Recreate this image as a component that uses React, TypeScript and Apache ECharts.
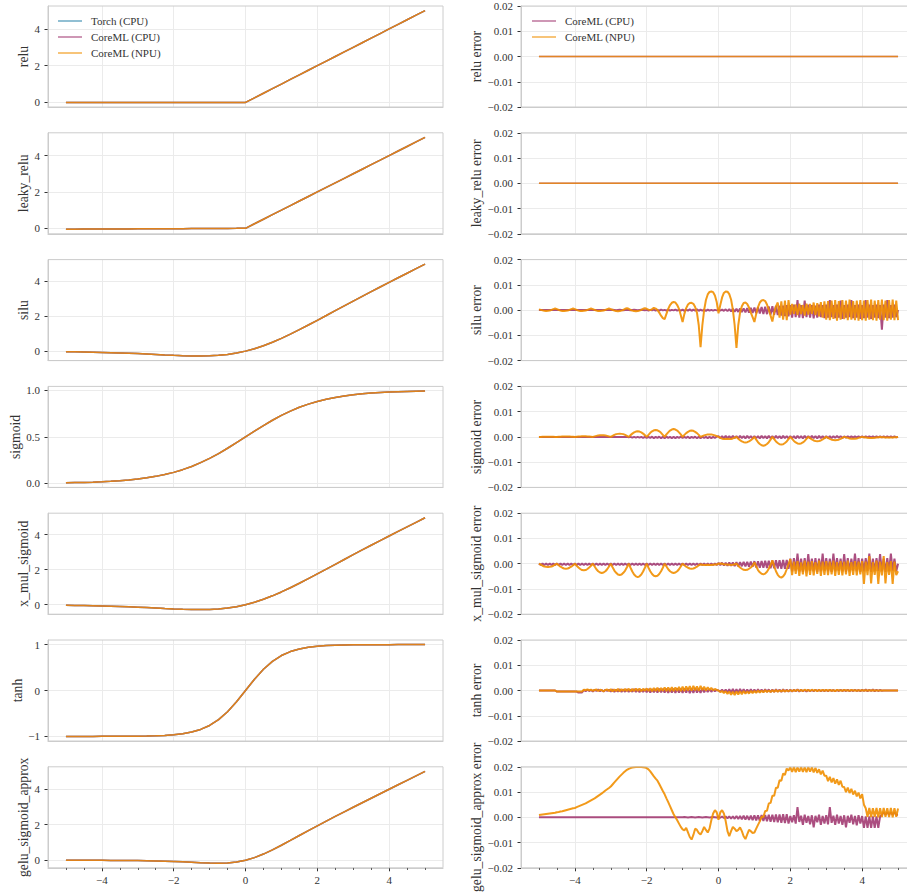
import React, { useEffect, useRef } from 'react';
import * as echarts from 'echarts';

// ---------- data ----------
const X_COARSE = [-5, -4.75, -4.5, -4.25, -4, -3.75, -3.5, -3.25, -3, -2.75, -2.5, -2.25, -2, -1.75, -1.5, -1.25, -1, -0.75, -0.5, -0.25, 0, 0.25, 0.5, 0.75, 1, 1.25, 1.5, 1.75, 2, 2.25, 2.5, 2.75, 3, 3.25, 3.5, 3.75, 4, 4.25, 4.5, 4.75, 5];

const RELU = [0, 0, 0, 0, 0, 0, 0, 0, 0, 0, 0, 0, 0, 0, 0, 0, 0, 0, 0, 0, 0, 0.25, 0.5, 0.75, 1, 1.25, 1.5, 1.75, 2, 2.25, 2.5, 2.75, 3, 3.25, 3.5, 3.75, 4, 4.25, 4.5, 4.75, 5];
const LEAKY_RELU = [-0.05, -0.048, -0.045, -0.043, -0.04, -0.038, -0.035, -0.033, -0.03, -0.028, -0.025, -0.023, -0.02, -0.018, -0.015, -0.013, -0.01, -0.008, -0.005, -0.003, 0, 0.25, 0.5, 0.75, 1, 1.25, 1.5, 1.75, 2, 2.25, 2.5, 2.75, 3, 3.25, 3.5, 3.75, 4, 4.25, 4.5, 4.75, 5];
const SILU = [-0.033, -0.041, -0.049, -0.06, -0.072, -0.086, -0.103, -0.121, -0.142, -0.165, -0.19, -0.215, -0.238, -0.259, -0.274, -0.278, -0.269, -0.241, -0.189, -0.109, 0, 0.141, 0.311, 0.509, 0.731, 0.972, 1.226, 1.491, 1.762, 2.035, 2.31, 2.585, 2.858, 3.129, 3.397, 3.664, 3.928, 4.19, 4.451, 4.709, 4.967];
const SIGMOID = [0.007, 0.009, 0.011, 0.014, 0.018, 0.023, 0.029, 0.037, 0.047, 0.06, 0.076, 0.095, 0.119, 0.148, 0.182, 0.223, 0.269, 0.321, 0.378, 0.438, 0.5, 0.562, 0.622, 0.679, 0.731, 0.777, 0.818, 0.852, 0.881, 0.905, 0.924, 0.94, 0.953, 0.963, 0.971, 0.977, 0.982, 0.986, 0.989, 0.991, 0.993];
const X_MUL_SIGMOID = [-0.033, -0.041, -0.049, -0.06, -0.072, -0.086, -0.103, -0.121, -0.142, -0.165, -0.19, -0.215, -0.238, -0.259, -0.274, -0.278, -0.269, -0.241, -0.189, -0.109, 0, 0.141, 0.311, 0.509, 0.731, 0.972, 1.226, 1.491, 1.762, 2.035, 2.31, 2.585, 2.858, 3.129, 3.397, 3.664, 3.928, 4.19, 4.451, 4.709, 4.967];
const TANH = [-1, -1, -1, -1, -0.999, -0.999, -0.998, -0.997, -0.995, -0.992, -0.987, -0.978, -0.964, -0.941, -0.905, -0.848, -0.762, -0.635, -0.462, -0.245, 0, 0.245, 0.462, 0.635, 0.762, 0.848, 0.905, 0.941, 0.964, 0.978, 0.987, 0.992, 0.995, 0.997, 0.998, 0.999, 0.999, 1, 1, 1, 1];
const GELU = [-0.001, -0.001, -0.002, -0.003, -0.004, -0.006, -0.009, -0.013, -0.018, -0.025, -0.035, -0.048, -0.064, -0.085, -0.108, -0.133, -0.154, -0.164, -0.15, -0.099, 0, 0.151, 0.35, 0.586, 0.846, 1.117, 1.392, 1.665, 1.936, 2.202, 2.465, 2.725, 2.982, 3.237, 3.491, 3.744, 3.996, 4.247, 4.498, 4.749, 5];

// error curves: evenly sampled from -5 to 5 every 0.05 (201 samples)
const X_FINE = Array.from({ length: 201 }, (_, i) => Math.round((-5 + i * 0.05) * 100) / 100);
const X_ZERO = [-5, 5];
const ERR_ZERO = [0, 0];

const SILU_NPU = [
  .0003, .0001, -.0001, -.0003, -.0004, -.0003, -.0002, .0001, .0004, .0006, .0004, .0001, -.0002, -.0004, -.0004, -.0003, -.0002, .0001, .0004, .0006,
  .0004, .0001, -.0002, -.0004, -.0004, -.0003, -.0002, .0001, .0004, .0006, .0004, .0001, -.0002, -.0004, -.0004, -.0003, -.0002, .0001, .0004, .0006,
  .0004, .0001, -.0002, -.0004, -.0005, -.0004, -.0002, .0001, .0005, .0007, .0005, .0001, -.0002, -.0004, -.0005, -.0004, -.0002, .0001, .0005, .0007,
  .0005, .0002, 0, .0004, .0009, .0006, 0, -.001, -.0022, -.0032, -.0036, -.0015, .0005, .002, .0029, .0032, .003, .002, .0005, -.002,
  -.0047, -.0015, .0008, .0022, .0028, .0029, .0025, .0012, -.001, -.006, -.0147, -.006, 0, .004, .0062, .0072, .0074, .0071, .0058, .0032,
  -.0013, .002, .005, .0068, .0074, .0073, .0063, .0042, .0002, -.006, -.015, -.006, -.001, .0015, .0028, .003, .0024, .001, -.001, -.0028,
  -.0047, -.0015, .0012, .003, .0038, .004, .0036, .0022, .0002, -.0022, -.0045, -.001, .0015, .003, -.003, .0035, -.0038, .0038, -.004, .004,
  -.0018, .0024, -.0015, .0022, -.002, .0025, -.0016, .002, -.0022, .0026, -.0018, .0024, -.0015, .003, -.002, .0028, -.0025, .0032, -.003, .0035,
  -.0038, .0036, -.004, .0038, -.0035, .004, -.0042, .0036, -.0038, .004, -.0036, .0038, -.004, .0042, -.0038, .0036, -.004, .0038, -.0042, .004,
  -.004, .0038, -.0042, .004, -.0038, .0042, -.004, .0038, -.0042, .004, -.0038, .0042, -.004, .0038, -.0042, .004, -.0038, .0042, -.004, .0038,
  -.004,
];
const SILU_CPU = [
  0, 0, 0, 0, 0, 0, 0, 0, 0, 0, 0, 0, 0, 0, 0, 0, 0, 0, 0, 0,
  0, 0, 0, 0, 0, 0, 0, 0, 0, 0, 0, 0, 0, 0, 0, 0, 0, 0, 0, 0,
  0, .0001, 0, -.0001, 0, .0001, 0, -.0001, 0, .0001, 0, -.0001, 0, .0001, 0, -.0001, 0, .0001, 0, -.0001,
  .0001, -.0002, .0001, -.0001, .0002, -.0002, .0001, -.0002, .0002, -.0001, .0001, -.0002, .0002, -.0002, .0001, -.0001, .0002, -.0002, .0001, -.0002,
  .0002, -.0003, .0002, -.0002, .0003, -.0003, .0002, -.0002, .0003, -.0003, .0002, -.0002, .0002, -.0003, .0002, -.0002, .0001, -.0002, .0001, -.0001,
  .0001, -.0002, .0002, -.0003, .0003, -.0004, .0004, -.0005, .0005, -.0006, .0005, -.0007, .0006, -.0008, .0007, -.0009, .0008, -.001, .0009, -.0011,
  .001, -.0012, .0011, -.0013, .0012, -.0015, .0013, -.0016, .0014, -.0018, .0015, -.0019, .0016, -.002, .0017, -.0022, .0018, -.0024, .002, -.0025,
  .002, -.003, .0022, -.0028, .004, -.003, .002, -.0032, .0038, -.0028, .0022, -.003, .002, -.0033, .0018, -.003, .0022, -.0028, .002, -.0032,
  .0022, -.003, .004, -.0028, .002, -.0032, .0022, -.003, .0038, -.0035, .002, -.003, .0022, -.0028, .004, -.0032, .002, -.003, .0022, -.0035,
  .002, -.0032, .004, -.003, .0022, -.0035, .002, -.003, .0022, -.0032, .002, -.0078, .0022, -.003, .004, -.0032, .002, -.003, .0022, -.0028,
  0,
];
const SIGMOID_NPU = [
  0, 0, .0001, .0001, .0001, .0001, .0001, .0001, .0001, 0, 0, .0001, .0001, .0002, .0002, .0002, .0002, .0002, .0001, .0001,
  0, .0001, .0002, .0002, .0003, .0003, .0003, .0002, .0002, .0001, 0, .0002, .0004, .0006, .0007, .0007, .0007, .0006, .0004, .0002,
  0, .0004, .0008, .0011, .0012, .0013, .0012, .0011, .0008, .0004, 0, .0007, .0013, .0018, .0021, .0022, .0021, .0018, .0013, .0007,
  0, .0008, .0016, .0022, .0026, .0027, .0026, .0022, .0016, .0008, 0, .001, .0018, .0025, .0029, .0031, .0029, .0025, .0018, .001,
  0, .0008, .0015, .002, .0024, .0025, .0024, .002, .0015, .0008, 0, .0003, .0006, .0008, .001, .001, .001, .0008, .0006, .0003,
  0, -.0004, -.0007, -.0008, -.0008, -.0007, -.0008, -.0008, -.0006, -.0003, 0, -.0007, -.0013, -.0018, -.0021, -.0022, -.0021, -.0018, -.0013, -.0007,
  0, -.0011, -.0021, -.0028, -.0033, -.0035, -.0033, -.0028, -.0021, -.0011, 0, -.0009, -.0018, -.0024, -.0029, -.003, -.0029, -.0024, -.0018, -.0009,
  0, -.0008, -.0016, -.0022, -.0026, -.0027, -.0026, -.0022, -.0016, -.0008, 0, -.0005, -.001, -.0014, -.0016, -.0017, -.0016, -.0014, -.001, -.0005,
  0, -.0004, -.0008, -.0011, -.0012, -.0013, -.0012, -.0011, -.0008, -.0004, 0, -.0002, -.0004, -.0006, -.0007, -.0007, -.0007, -.0006, -.0004, -.0002,
  0, -.0001, -.0002, -.0003, -.0004, -.0004, -.0004, -.0003, -.0002, -.0001, 0, -.0001, -.0001, -.0002, -.0002, -.0002, -.0002, -.0002, -.0001, -.0001,
  0,
];
const SIGMOID_CPU = [
  0, 0, 0, 0, 0, 0, 0, 0, 0, 0, 0, 0, 0, 0, 0, 0, 0, 0, 0, 0,
  0, 0, 0, 0, 0, 0, 0, 0, 0, 0, 0, 0, 0, 0, 0, 0, 0, 0, 0, 0,
  0, 0, 0, 0, 0, 0, 0, 0, 0, 0, -.0002, 0, -.0003, 0, -.0003, 0, -.0003, 0, -.0004, 0,
  -.0004, 0, -.0004, .0001, -.0005, 0, -.0004, .0001, -.0005, 0, -.0005, .0001, -.0004, 0, -.0005, .0001, -.0005, 0, -.0004, .0001,
  -.0004, 0, -.0004, .0001, -.0005, 0, -.0004, .0001, -.0005, 0, -.0005, .0001, -.0004, 0, -.0005, .0001, -.0005, 0, -.0004, .0001,
  .0003, -.0005, .0003, -.0006, .0004, -.0005, .0003, -.0006, .0004, -.0005, .0003, -.0006, .0004, -.0005, .0003, -.0006, .0004, -.0005, .0003, -.0006,
  .0003, -.0005, .0003, -.0006, .0004, -.0005, .0003, -.0006, .0004, -.0005, .0003, -.0006, .0004, -.0005, .0003, -.0006, .0004, -.0005, .0003, -.0006,
  .0003, -.0005, .0003, -.0006, .0004, -.0005, .0003, -.0006, .0004, -.0005, .0003, -.0006, .0004, -.0005, .0003, -.0006, .0004, -.0005, .0003, -.0006,
  .0003, -.0005, .0003, -.0005, .0003, -.0004, .0004, -.0004, .0003, -.0004, .0002, -.0003, .0002, -.0003, .0002, -.0003, .0002, -.0002, .0002, -.0002,
  .0002, -.0002, .0002, -.0002, .0002, -.0002, .0002, -.0002, .0002, -.0002, .0002, -.0002, .0002, -.0002, .0002, -.0002, .0002, -.0002, .0002, -.0002,
  0,
];
const X_MUL_SIGMOID_NPU = [
  0, -.0004, -.0008, -.0011, -.0012, -.0013, -.0012, -.0011, -.0008, -.0004, 0, -.0006, -.0012, -.0016, -.0019, -.002, -.0019, -.0016, -.0012, -.0006,
  0, -.0008, -.0015, -.0021, -.0025, -.0026, -.0025, -.0021, -.0015, -.0008, 0, -.0011, -.0022, -.003, -.0035, -.0037, -.0035, -.003, -.0022, -.0011,
  0, -.0014, -.0027, -.0036, -.0043, -.0045, -.0043, -.0036, -.0027, -.0014, 0, -.0016, -.0031, -.0043, -.005, -.0053, -.005, -.0043, -.0031, -.0016,
  0, -.0016, -.003, -.0041, -.0048, -.005, -.0048, -.0041, -.003, -.0016, 0, -.0011, -.0022, -.003, -.0035, -.0037, -.0035, -.003, -.0022, -.0011,
  0, -.0006, -.0012, -.0016, -.0019, -.002, -.0019, -.0016, -.0012, -.0006, -.0003, -.0004, -.0005, -.0005, -.0004, -.0005, -.0005, -.0004, -.0003, -.0003,
  0, .0001, 0, -.0002, -.0003, -.0003, -.0004, -.0005, -.0004, -.0002, 0, -.0008, -.0015, -.002, -.0024, -.0025, -.0024, -.002, -.0015, -.0008,
  .0005, -.001, -.0025, -.0034, -.004, -.0042, -.0039, -.0032, -.002, -.0005, .0013, -.001, -.003, -.0044, -.0052, -.0055, -.005, -.004, -.0022, -.0002,
  .0018, -.0045, .0008, -.004, .001, -.0048, .0005, -.0042, .0012, -.005, .0008, -.0044, .001, -.0046, .0006, -.004, .0012, -.0048, .0008, -.0044,
  .001, -.0045, .0008, -.0042, .0012, -.0048, .0006, -.0044, .001, -.0046, .0008, -.0042, .0012, -.0048, .0006, -.0044, .001, -.0046, .0008, -.0042,
  .001, -.008, .0008, -.0045, .003, -.0078, .0006, -.0044, .0012, -.008, .0008, -.0046, .003, -.0078, .0006, -.0044, .001, -.008, .0008, -.0045,
  -.003,
];
const X_MUL_SIGMOID_CPU = [
  .0001, -.0005, .0001, -.0005, .0001, -.0005, .0001, -.0005, .0001, -.0005, .0001, -.0005, .0001, -.0005, .0001, -.0005, .0001, -.0005, .0001, -.0005,
  .0001, -.0005, .0001, -.0005, .0001, -.0005, .0001, -.0005, .0001, -.0005, .0001, -.0005, .0001, -.0005, .0001, -.0005, .0001, -.0005, .0001, -.0005,
  .0001, -.0005, .0001, -.0005, .0001, -.0005, .0001, -.0005, .0001, -.0005, .0001, -.0005, .0001, -.0005, .0001, -.0005, .0001, -.0005, .0001, -.0005,
  .0001, -.0005, .0001, -.0005, .0001, -.0005, .0001, -.0005, .0001, -.0005, .0001, -.0005, .0001, -.0005, .0001, -.0005, .0001, -.0005, .0001, -.0005,
  .0001, -.0005, .0001, -.0005, .0001, -.0005, .0001, -.0005, .0001, -.0005, .0001, -.0005, .0001, -.0005, .0001, -.0005, .0001, -.0005, .0001, -.0005,
  .0003, -.0006, .0004, -.0007, .0004, -.0008, .0005, -.0008, .0005, -.0009, .0006, -.001, .0006, -.001, .0007, -.0011, .0007, -.0012, .0008, -.0012,
  .001, -.0015, .001, -.0016, .0011, -.0016, .0012, -.0017, .0012, -.0018, .0013, -.0018, .0014, -.0019, .0014, -.002, .0015, -.002, .0015, -.002,
  .002, -.003, .0022, -.0028, .004, -.003, .002, -.0032, .0022, -.003, .0038, -.0028, .002, -.003, .0022, -.0032, .002, -.003, .004, -.0028,
  .0022, -.003, .002, -.0032, .004, -.003, .0022, -.0028, .002, -.003, .0038, -.0032, .0022, -.003, .002, -.0028, .004, -.003, .0022, -.0032,
  .002, -.003, .0022, -.0028, .004, -.0032, .002, -.003, .0022, -.0028, .0038, -.003, .002, -.0032, .0022, -.003, .004, -.0028, .002, -.003,
  0,
];
const TANH_NPU = [
  0, 0, 0, 0, 0, 0, 0, 0, 0, 0, -.0004, -.0004, -.0004, -.0004, -.0004, -.0004, -.0004, -.0004, -.0004, -.0004,
  -.0004, -.0004, -.0004, -.0004, -.0004, .0003, .0002, .0004, .0001, .0003, -.0001, .0002, .0004, -.0002, .0003, .0001, -.0003, .0002, .0004, -.0002,
  .0005, -.0003, .0004, -.0002, .0006, -.0003, .0005, -.0001, .0006, -.0002, .0007, -.0003, .0006, -.0002, .0007, -.0002, .0008, -.0003, .0007, -.0001,
  .0008, -.0002, .0009, -.0003, .001, -.0002, .0011, -.0003, .001, -.0001, .0012, -.0002, .0012, -.0003, .0013, -.0002, .0012, -.0001, .0014, -.0002,
  .0015, -.0002, .0016, 0, .0017, -.0001, .0018, .0001, .0016, -.0001, .0018, .0002, .0015, 0, .0013, .0002, .001, .0001, .0006, .0002,
  0, -.0006, -.0002, -.001, -.0003, -.0014, -.0004, -.0017, -.0005, -.0018, -.0004, -.0016, -.0003, -.0015, -.0002, -.0013, -.0003, -.0012, -.0002, -.001,
  -.0002, -.0009, 0, -.0008, -.0001, -.0007, .0001, -.0006, 0, -.0006, .0001, -.0005, .0002, -.0005, .0001, -.0004, .0002, -.0004, .0001, -.0003,
  .0002, -.0003, .0002, -.0002, .0003, -.0002, .0002, -.0002, .0003, -.0001, .0002, -.0002, .0003, -.0001, .0002, -.0002, .0002, -.0001, .0002, -.0001,
  .0002, -.0001, .0002, -.0001, .0001, -.0002, .0002, 0, .0001, -.0001, .0002, 0, .0001, -.0001, .0002, 0, .0001, -.0001, .0001, 0,
  .0001, 0, .0001, 0, .0001, 0, .0001, 0, 0, 0, 0, 0, 0, 0, 0, 0, 0, 0, 0, 0,
  0,
];
const TANH_CPU = [
  0, 0, 0, 0, 0, 0, 0, 0, 0, 0, -.0004, -.0004, -.0004, -.0004, -.0004, -.0004, -.0004, -.0004, -.0004, -.0004,
  -.0004, -.0004, -.0008, -.0008, -.0008, .0002, -.0003, .0003, -.0002, .0002, -.0004, .0003, -.0002, .0004, -.0003, .0002, -.0004, .0003, -.0002, .0003,
  -.0004, .0004, -.0005, .0003, -.0004, .0005, -.0006, .0004, -.0005, .0005, -.0006, .0004, -.0005, .0006, -.0006, .0005, -.0007, .0004, -.0006, .0005,
  -.0007, .0006, -.0008, .0005, -.0007, .0006, -.0008, .0007, -.0007, .0006, -.0008, .0007, -.0009, .0006, -.0008, .0007, -.0009, .0008, -.0008, .0007,
  -.0009, .0008, -.0008, .0009, -.001, .0008, -.0009, .0009, -.0008, .0007, -.0009, .0008, -.0007, .0006, -.0006, .0005, -.0005, .0004, -.0003, .0002,
  0, -.0004, .0003, -.0006, .0004, -.0008, .0005, -.0009, .0006, -.001, .0005, -.0009, .0006, -.0008, .0005, -.0009, .0004, -.0008, .0005, -.0007,
  .0004, -.0007, .0005, -.0006, .0004, -.0006, .0005, -.0005, .0004, -.0006, .0003, -.0005, .0004, -.0004, .0003, -.0005, .0004, -.0004, .0003, -.0004,
  .0003, -.0004, .0003, -.0003, .0004, -.0004, .0003, -.0003, .0002, -.0004, .0003, -.0003, .0002, -.0003, .0003, -.0002, .0002, -.0003, .0002, -.0002,
  .0002, -.0003, .0003, -.0002, .0002, -.0003, .0002, -.0002, .0003, -.0002, .0002, -.0002, .0003, -.0003, .0002, -.0002, .0003, -.0002, .0002, -.0003,
  .0003, -.0002, .0004, -.0003, .0003, -.0002, .0004, -.0003, .0003, -.0002, .0002, -.0001, 0, 0, 0, 0, 0, 0, 0, 0,
  0,
];
const GELU_NPU = [
  .0009, .001, .0011, .0012, .0013, .0014, .0015, .0016, .0017, .0018, .002, .0021, .0023, .0024, .0026, .0028, .003, .0032, .0034, .0036,
  .0037, .004, .0043, .0046, .0049, .0052, .0055, .0059, .0063, .0067, .0071, .0075, .008, .0085, .009, .0095, .01, .0106, .0111, .0116,
  .0122, .013, .0138, .0146, .0154, .0162, .0169, .0176, .0182, .0188, .0192, .0195, .0197, .0198, .0199, .0199, .0199, .0199, .0198, .0197,
  .0195, .019, .0182, .0172, .0162, .0153, .0145, .0132, .0118, .0104, .0091, .0075, .006, .0044, .0028, .0012, 0, -.0012, -.0025, -.0038,
  -.0048, -.0052, -.0042, -.006, -.0078, -.0088, -.007, -.0045, -.005, -.0062, -.0068, -.0055, -.0038, -.005, -.006, -.0045, -.0012, .0015, .0028, .002,
  -.001, .002, .0028, .0015, -.0015, -.0055, -.0075, -.0055, -.0038, -.0045, -.0055, -.005, -.004, -.0055, -.0075, -.0086, -.0068, -.005, -.0055, -.0062,
  -.006, -.0045, -.003, -.0016, .0002, .0001, .0025, .0026, .0055, .0057, .0085, .0085, .0117, .0117, .0147, .0145, .0173, .0168, .0193, .0185,
  .0198, .018, .0199, .0179, .0198, .0181, .0199, .018, .0198, .0179, .0199, .0181, .0198, .0178, .0196, .0176, .019, .017, .0185, .0165,
  .0165, .0143, .016, .0138, .0155, .0133, .015, .0128, .0145, .0121, .012, .01, .0118, .0096, .0113, .009, .0105, .0083, .0098, .0075,
  .0092, .005, .0036, .0002, .0037, .0001, .0036, .0002, .0037, 0, .0036, .0001, .0037, .0002, .0036, .0001, .0037, 0, .0036, .0002,
  .0035,
];
const GELU_CPU = [
  0, 0, 0, 0, 0, 0, 0, 0, 0, 0, 0, 0, 0, 0, 0, 0, 0, 0, 0, 0,
  0, 0, 0, 0, 0, 0, 0, 0, 0, 0, 0, 0, 0, 0, 0, 0, 0, 0, 0, 0,
  0, 0, 0, 0, 0, 0, 0, 0, 0, 0, 0, 0, 0, 0, 0, 0, 0, 0, 0, 0,
  0, 0, 0, 0, 0, 0, 0, 0, 0, 0, 0, 0, 0, 0, 0, 0, 0, 0, 0, 0,
  0, .0001, 0, -.0001, 0, .0001, 0, -.0001, 0, .0001, 0, -.0001, 0, .0001, 0, -.0001, 0, .0001, 0, -.0001,
  .0002, -.0002, .0003, -.0003, .0003, -.0004, .0004, -.0005, .0004, -.0006, .0005, -.0007, .0005, -.0008, .0006, -.0009, .0006, -.001, .0007, -.0011,
  .0008, -.0012, .0008, -.0014, .0009, -.0015, .0009, -.0016, .001, -.0018, .001, -.0019, .0011, -.002, .0011, -.0022, .0012, -.0023, .0012, -.0025,
  .0005, -.002, .0008, -.0025, .004, -.0018, .0006, -.003, .001, -.0022, .0005, -.0028, .0008, -.004, .0006, -.002, .001, -.003, .0005, -.0025,
  .0008, -.0028, .004, -.0022, .0006, -.003, .001, -.0025, .0005, -.003, .0008, -.004, .0006, -.0022, .001, -.0028, .0005, -.0032, .0008, -.0025,
  .0005, -.0042, .0004, -.0042, .0004, -.0042, .0004, -.0042, .0004, -.0042, .0004, .001, .002, .001, .002, .001, .002, .001, .002, .001,
  .001,
];

const ROW_NAMES = ['relu', 'leaky_relu', 'silu', 'sigmoid', 'x_mul_sigmoid', 'tanh', 'gelu_sigmoid_approx'];
const ROW_VALUES = [RELU, LEAKY_RELU, SILU, SIGMOID, X_MUL_SIGMOID, TANH, GELU];
const ROW_CPU_ERR = [ERR_ZERO, ERR_ZERO, SILU_CPU, SIGMOID_CPU, X_MUL_SIGMOID_CPU, TANH_CPU, GELU_CPU];
const ROW_NPU_ERR = [ERR_ZERO, ERR_ZERO, SILU_NPU, SIGMOID_NPU, X_MUL_SIGMOID_NPU, TANH_NPU, GELU_NPU];
const ROW_ERR_X = [X_ZERO, X_ZERO, X_FINE, X_FINE, X_FINE, X_FINE, X_FINE];

// axis settings (ranges with matplotlib-style 5% margins, tick positions)
const ROW_Y_RANGE = [[-0.25, 5.25], [-0.3025, 5.2525], [-0.5407, 5.2287], [-0.0426, 1.0426], [-0.5407, 5.2287], [-1.1, 1.1], [-0.4228, 5.2572]];
const ROW_Y_TICKS = [[0, 2, 4], [0, 2, 4], [0, 2, 4], [0, 0.5, 1], [0, 2, 4], [-1, 0, 1], [0, 2, 4]];
const ROW_Y_DECIMALS = [0, 0, 0, 1, 0, 0, 0];
const ERR_TICKS = [-0.02, -0.01, 0, 0.01, 0.02];
const X_TICKS = [-4, -2, 0, 2, 4];

const SERIES_NAMES = ['Torch (CPU)', 'CoreML (CPU)', 'CoreML (NPU)'];
const COLORS = ['#2E86AB', '#A23B72', '#F18F01'];

const FONT = 'Liberation Serif, Times New Roman, serif';
const TXT = '#333333';
const minus = (s: string) => s.replace('-', '\u2212');

export default function App() {
  const ref = useRef<HTMLDivElement>(null);

  useEffect(() => {
    if (!ref.current) return;
    const chart = echarts.init(ref.current, undefined, { renderer: 'svg' });

    const grids: any[] = [];
    const xAxes: any[] = [];
    const yAxes: any[] = [];
    const series: any[] = [];

    const TOP0 = 6;
    const STEP = 126.8;
    const H = 101;
    const W = 395;
    const LEFTS = [48, 521];

    ROW_NAMES.forEach((name, r) => {
      const last = r === ROW_NAMES.length - 1;
      for (let c = 0; c < 2; c++) {
        const idx = r * 2 + c;
        grids.push({
          left: LEFTS[c], top: TOP0 + r * STEP, width: W, height: H,
          show: true, borderColor: '#cccccc', borderWidth: 1, backgroundColor: 'transparent',
          z: 5, containLabel: false, outerBoundsMode: 'none',
        });
        xAxes.push({
          type: 'value', gridIndex: idx, min: -5.5, max: 5.5,
          axisLine: { show: true, onZero: false, lineStyle: { color: '#cccccc' } },
          axisTick: { show: last, customValues: X_TICKS, length: 3.5, lineStyle: { color: TXT } },
          minorTick: { show: last, splitNumber: 4, length: 2, lineStyle: { color: TXT } },
          axisLabel: {
            show: last, customValues: X_TICKS, fontSize: 11, color: TXT, fontFamily: FONT, margin: 7,
            formatter: (v: number) => minus(String(v)),
          },
          splitLine: { show: true, lineStyle: { color: '#ebebeb', width: 1 } },
          minorSplitLine: { show: false },
        });
        const isErr = c === 1;
        const ticks = isErr ? ERR_TICKS : ROW_Y_TICKS[r];
        const dec = isErr ? 2 : ROW_Y_DECIMALS[r];
        yAxes.push({
          type: 'value', gridIndex: idx,
          min: isErr ? -0.02 : ROW_Y_RANGE[r][0], max: isErr ? 0.02 : ROW_Y_RANGE[r][1],
          axisLine: { show: true, onZero: false, lineStyle: { color: '#cccccc' } },
          axisTick: { show: true, customValues: ticks, length: 3.5, lineStyle: { color: TXT } },
          axisLabel: {
            customValues: ticks, fontSize: 11, color: TXT, fontFamily: FONT, margin: 8,
            formatter: (v: number) => minus(Math.abs(v) < 1e-12 ? (0).toFixed(dec) : v.toFixed(dec)),
          },
          splitLine: { show: true, lineStyle: { color: '#ebebeb', width: 1 } },
          name: isErr ? name + ' error' : name,
          nameLocation: 'middle',
          nameGap: isErr ? 37 : 17,
          nameTextStyle: { fontSize: 13.7, color: TXT, fontFamily: FONT },
        });

        if (!isErr) {
          const vals = ROW_VALUES[r];
          for (let s = 0; s < 3; s++) {
            series.push({
              type: 'line', name: SERIES_NAMES[s], xAxisIndex: idx, yAxisIndex: idx,
              data: X_COARSE.map((x, i) => [x, vals[i]]),
              symbol: 'none', showSymbol: false, silent: true,
              lineStyle: { width: 1.5, color: COLORS[s], opacity: 0.8 },
              itemStyle: { color: COLORS[s], opacity: 0.8 },
              z: 2 + s,
            });
          }
        } else {
          const ex = ROW_ERR_X[r];
          const errs = [ROW_CPU_ERR[r], ROW_NPU_ERR[r]];
          const flat = ex.length === 2;
          for (let s = 0; s < 2; s++) {
            series.push({
              type: 'line', name: SERIES_NAMES[s + 1], xAxisIndex: idx, yAxisIndex: idx,
              data: ex.map((x, i) => [x, errs[s][i]]),
              symbol: 'none', showSymbol: false, silent: true,
              lineStyle: { width: flat ? 1.5 : 2, color: COLORS[s + 1], opacity: flat ? 0.75 : 0.9 },
              itemStyle: { color: COLORS[s + 1], opacity: 0.9 },
              z: 2 + s,
            });
          }
        }
      }
    });

    const legendBase = {
      orient: 'vertical', itemWidth: 24, itemHeight: 14, itemGap: 2, padding: 0,
      selectedMode: false,
      icon: 'path://M0,0 L24,0 L24,1.5 L0,1.5 Z',
      itemStyle: { opacity: 0.7 },
      textStyle: { fontSize: 11, color: TXT, fontFamily: FONT, lineHeight: 14, padding: [0, 0, 0, 4] },
    };

    chart.setOption({
      animation: false,
      textStyle: { fontFamily: FONT },
      backgroundColor: '#ffffff',
      grid: grids,
      xAxis: xAxes,
      yAxis: yAxes,
      legend: [
        { ...legendBase, data: SERIES_NAMES, left: 58, top: 14 },
        { ...legendBase, data: SERIES_NAMES.slice(1), left: 532, top: 14 },
      ],
      series,
    });

    return () => chart.dispose();
  }, []);

  return <div ref={ref} style={{ position: 'absolute', left: 0, top: 0, width: 907, height: 896 }} />;
}
